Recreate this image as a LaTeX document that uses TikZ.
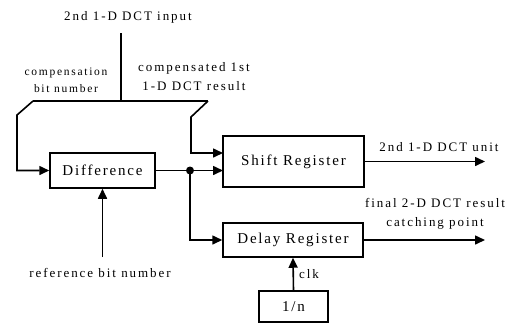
\documentclass[tikz,border=0pt]{standalone}
\usepackage{fontspec}
\setmainfont{Liberation Serif}
\usetikzlibrary{arrows.meta}
\tikzset{
  blk/.style={draw, line width=1.5pt, inner sep=0pt, font=\fontsize{15}{17}\selectfont\addfontfeatures{LetterSpace=12}},
  lbl/.style={inner sep=0pt, align=center, font=\fontsize{13}{19}\selectfont\addfontfeatures{LetterSpace=15}},
  slbl/.style={inner sep=0pt, align=center, font=\fontsize{11.5}{17}\selectfont\addfontfeatures{LetterSpace=15}},
  wire/.style={line width=1.6pt},
  arr/.style={line width=1.6pt, -{Triangle[length=10pt,width=9pt]}},
}
\begin{document}
\begin{tikzpicture}[x=1pt,y=-1pt]
\useasboundingbox (0,0) rectangle (520,325);
% blocks
\node[blk, minimum width=105pt, minimum height=35pt] (diff) at (102.5,170.5) {Difference};
\node[blk, minimum width=141pt, minimum height=51pt] (shift) at (293.5,161.5) {Shift Register};
\node[blk, minimum width=140pt, minimum height=34pt] (delay) at (293,240) {Delay Register};
\node[blk, minimum width=69pt, minimum height=31pt] (inv) at (293.5,306.5) {1/n};
% coordinates
\coordinate (top) at (121,33);
\coordinate (tj) at (121,101);
\coordinate (tl) at (33,101);
\coordinate (tr) at (208,101);
\coordinate (dot) at (190,170.5);
\coordinate (ref) at (102.5,257);
\coordinate (sout) at (485,161.5);
\coordinate (dout) at (485,240);
\coordinate (sin1) at (223,153);
\coordinate (sin2) at (223,170.5);
% connectors
\draw[wire] (top) -- (tj);
\draw[wire] (tl) -- (tr);
\draw[arr] (tl) -- (17,115) -- (17,170.5) -- (diff.west);
\draw[arr] (tr) -- (191,117) -- (191,153) -- (sin1);
\draw[wire] (diff.east) -- (dot);
\draw[arr] (dot) -- (sin2);
\draw[arr] (dot) -- (dot |- delay.west) -- (delay.west);
\fill (dot) circle (4pt);
\draw[arr] (shift.east) -- (sout);
\draw[arr] (delay.east) -- (dout);
\draw[arr] (ref) -- (diff.south);
\draw[arr] (inv.north) -- (delay.south);
% labels
\node[lbl] (tin) at (128,17) {2nd 1-D DCT input};
\node[slbl] (comp) at (66,80) {compensation\\bit number};
\node[lbl] (compd) at (194,77) {compensated 1st\\1-D DCT result};
\node[lbl] (unit) at (439,147) {2nd 1-D DCT unit};
\node[lbl] (final) at (435,214) {final 2-D DCT result\\catching point};
\node[lbl] (refl) at (100,273) {reference bit number};
\node[lbl, anchor=west] (clk) at (299,274) {clk};
\end{tikzpicture}
\end{document}
